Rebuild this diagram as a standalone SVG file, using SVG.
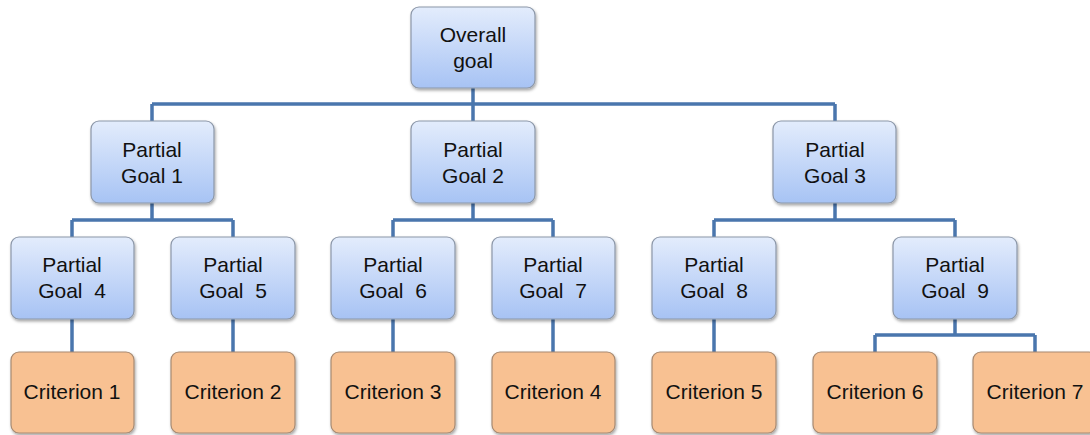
<svg xmlns="http://www.w3.org/2000/svg" width="1090" height="435" viewBox="0 0 1090 435">
<defs>
<linearGradient id="gb" x1="0" y1="0" x2="0" y2="1">
<stop offset="0" stop-color="#e3ecfc"/>
<stop offset="1" stop-color="#a7c3f4"/>
</linearGradient>
<filter id="sh" x="-10%" y="-10%" width="125%" height="130%">
<feDropShadow dx="1" dy="2" stdDeviation="1.5" flood-color="#000" flood-opacity="0.35"/>
</filter>
</defs>
<style>
.g rect{fill:url(#gb);stroke:#8c97a8;stroke-width:1.2;filter:url(#sh)}
.c rect{fill:#f8c192;stroke:#a78a72;stroke-width:1.2;filter:url(#sh)}
text{font-family:"Liberation Sans",Arial,sans-serif;font-size:21px;fill:#111;text-anchor:middle;white-space:pre}
#connectors path{fill:none;stroke:#4a76ad;stroke-width:3.5}
</style>
<g id="connectors">
<path d="M473 88V121M152 104H835M152 104V121M835 104V121"/>
<path d="M152 203V220M72 220H233M72 220V237M233 220V237"/>
<path d="M473 203V220M393 220H553M393 220V237M553 220V237"/>
<path d="M835 203V220M714 220H955M714 220V237M955 220V237"/>
<path d="M72 319V352M233 319V352M393 319V352M553 319V352M714 319V352"/>
<path d="M955 319V335M875 335H1035M875 335V352M1035 335V352"/>
</g>
<g id="overall" class="g"><rect x="411" y="7" width="124" height="81" rx="8"/><text x="473" y="42">Overall</text><text x="473" y="68">goal</text></g>
<g id="pg1" class="g"><rect x="91" y="121" width="123" height="82" rx="8"/><text x="152" y="157">Partial</text><text x="152" y="183">Goal 1</text></g>
<g id="pg2" class="g"><rect x="411" y="121" width="124" height="82" rx="8"/><text x="473" y="157">Partial</text><text x="473" y="183">Goal 2</text></g>
<g id="pg3" class="g"><rect x="773" y="121" width="123" height="82" rx="8"/><text x="835" y="157">Partial</text><text x="835" y="183">Goal 3</text></g>
<g id="pg4" class="g"><rect x="11" y="237" width="123" height="82" rx="8"/><text x="72" y="272">Partial</text><text x="72" y="298" xml:space="preserve">Goal  4</text></g>
<g id="pg5" class="g"><rect x="171" y="237" width="124" height="82" rx="8"/><text x="233" y="272">Partial</text><text x="233" y="298" xml:space="preserve">Goal  5</text></g>
<g id="pg6" class="g"><rect x="331" y="237" width="124" height="82" rx="8"/><text x="393" y="272">Partial</text><text x="393" y="298" xml:space="preserve">Goal  6</text></g>
<g id="pg7" class="g"><rect x="492" y="237" width="123" height="82" rx="8"/><text x="553" y="272">Partial</text><text x="553" y="298" xml:space="preserve">Goal  7</text></g>
<g id="pg8" class="g"><rect x="652" y="237" width="124" height="82" rx="8"/><text x="714" y="272">Partial</text><text x="714" y="298" xml:space="preserve">Goal  8</text></g>
<g id="pg9" class="g"><rect x="893" y="237" width="124" height="82" rx="8"/><text x="955" y="272">Partial</text><text x="955" y="298" xml:space="preserve">Goal  9</text></g>
<g id="c1" class="c"><rect x="11" y="352" width="123" height="81" rx="8"/><text x="72" y="399">Criterion 1</text></g>
<g id="c2" class="c"><rect x="171" y="352" width="124" height="81" rx="8"/><text x="233" y="399">Criterion 2</text></g>
<g id="c3" class="c"><rect x="331" y="352" width="124" height="81" rx="8"/><text x="393" y="399">Criterion 3</text></g>
<g id="c4" class="c"><rect x="492" y="352" width="123" height="81" rx="8"/><text x="553" y="399">Criterion 4</text></g>
<g id="c5" class="c"><rect x="652" y="352" width="124" height="81" rx="8"/><text x="714" y="399">Criterion 5</text></g>
<g id="c6" class="c"><rect x="813" y="352" width="124" height="81" rx="8"/><text x="875" y="399">Criterion 6</text></g>
<g id="c7" class="c"><rect x="973" y="352" width="124" height="81" rx="8"/><text x="1035" y="399">Criterion 7</text></g>
</svg>
